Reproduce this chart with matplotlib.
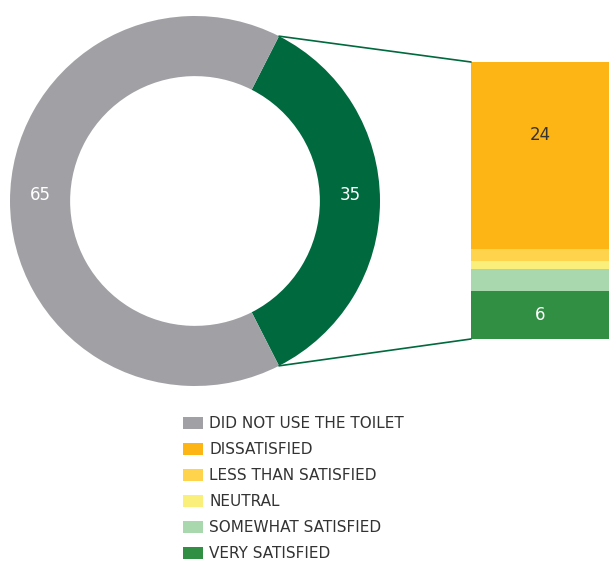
import matplotlib
matplotlib.use("Agg")
import numpy as np
from matplotlib import pyplot as plt
from matplotlib.patches import ConnectionPatch, Patch

# donut: used vs did not use
pie_labels = ["USED THE TOILET", "DID NOT USE THE TOILET"]
pie_values = [35, 65]
pie_colors = ["#00693E", "#A1A1A5"]

# breakdown of the 35 who used the toilet (top to bottom)
bar_labels = ["DISSATISFIED", "LESS THAN SATISFIED", "NEUTRAL",
              "SOMEWHAT SATISFIED", "VERY SATISFIED"]
bar_values = [23.6, 1.5, 1.0, 2.8, 6.1]
bar_colors = ["#FDB515", "#FFD34C", "#F9EF7A", "#A9D8AF", "#318F44"]
bar_shown = {"DISSATISFIED": "24", "VERY SATISFIED": "6"}

legend_labels = ["DID NOT USE THE TOILET"] + bar_labels
legend_colors = ["#A1A1A5"] + bar_colors

W, H = 609, 562
fig = plt.figure(figsize=(W / 100, H / 100), dpi=100)
plt.rcParams['font.family'] = ['DejaVu Sans']

# pie axes: center (195, 201) px, radius 185 px
cx, cy, r = 195, 201, 185
ax = fig.add_axes([(cx - r) / W, (H - cy - r) / H, 2 * r / W, 2 * r / H])
half = pie_values[0] / 100 * 360 / 2
wedges, _ = ax.pie(pie_values, colors=pie_colors, startangle=-half,
                   radius=1, wedgeprops=dict(width=0.325, linewidth=0))
ax.set_xlim(-1, 1)
ax.set_ylim(-1, 1)
ax.set_aspect('equal')
ax.axis('off')

# value labels in the ring
for w, v in zip(wedges, pie_values):
    ang = np.deg2rad((w.theta1 + w.theta2) / 2)
    ax.text(0.837 * np.cos(ang), 0.837 * np.sin(ang) + 0.03, str(v),
            ha='center', va='center', color='white', fontsize=12)

# bar axes: x 471..609, y 62..339 px
bx0, bx1, by0, by1 = 471, 609, 62, 339
bax = fig.add_axes([bx0 / W, (H - by1) / H, (bx1 - bx0) / W, (by1 - by0) / H])
total = sum(bar_values)
bottom = total
for lab, v, c in zip(bar_labels, bar_values, bar_colors):
    bottom -= v
    bax.bar(0.5, v, width=1, bottom=bottom, color=c, linewidth=0)
    if lab == "DISSATISFIED":
        bax.text(0.5, bottom + v * 0.61, bar_shown[lab], ha='center',
                 va='center', color='#333333', fontsize=12)
    elif lab in bar_shown:
        bax.text(0.5, bottom + v / 2, bar_shown[lab], ha='center',
                 va='center', color='white', fontsize=12)
bax.set_xlim(0, 1)
bax.set_ylim(0, total)
bax.axis('off')

# connecting lines from wedge edges to bar corners
t1, t2 = np.deg2rad(wedges[0].theta1), np.deg2rad(wedges[0].theta2)
for ang, yb in [(t2, total), (t1, 0)]:
    con = ConnectionPatch(xyA=(0, yb), coordsA=bax.transData,
                          xyB=(np.cos(ang), np.sin(ang)), coordsB=ax.transData,
                          color="#00693E", linewidth=1.2)
    fig.add_artist(con)

handles = [Patch(facecolor=c, edgecolor='none') for c in legend_colors]
leg = fig.legend(handles, legend_labels, loc='upper left',
                 bbox_to_anchor=(177 / W, 1 - 410 / H), frameon=False,
                 fontsize=11, handlelength=1.3, handleheight=0.8,
                 handletextpad=0.4, labelspacing=0.72, borderaxespad=0)
for t in leg.get_texts():
    t.set_color('#333333')

fig.savefig("out.png", dpi=100)
